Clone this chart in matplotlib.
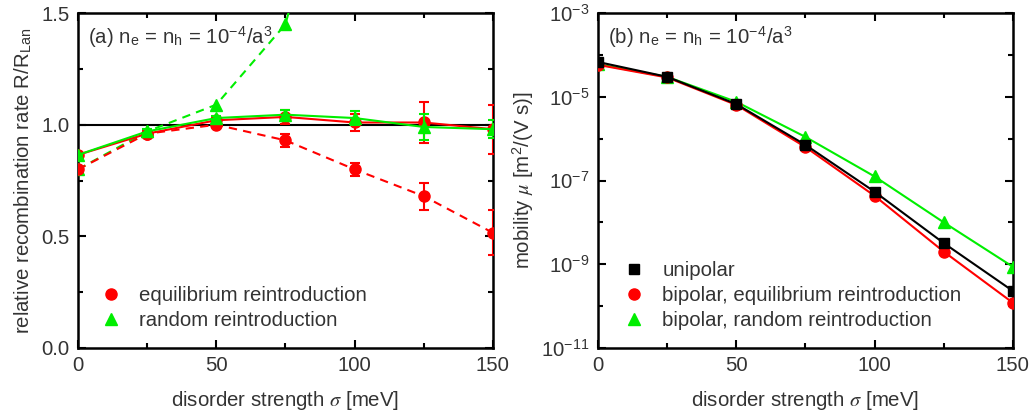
import math
import matplotlib
matplotlib.use("Agg")
import matplotlib.pyplot as plt
from matplotlib.lines import Line2D
from matplotlib.ticker import MultipleLocator, FixedLocator, NullFormatter, FuncFormatter, FormatStrFormatter

plt.rcParams['font.family'] = ['Liberation Sans', 'DejaVu Sans']
plt.rcParams['mathtext.fontset'] = 'stix'
plt.rcParams['text.color'] = '#333333'
plt.rcParams['axes.labelcolor'] = '#333333'
plt.rcParams['xtick.color'] = 'black'
plt.rcParams['ytick.color'] = 'black'
plt.rcParams['xtick.labelcolor'] = '#333333'
plt.rcParams['ytick.labelcolor'] = '#333333'

sigma = [0, 25, 50, 75, 100, 125, 150]

# panel (a): relative recombination rate
eq_solid = [0.865, 0.96, 1.02, 1.035, 1.01, 1.01, 0.98]
eq_solid_err = [0.0, 0.01, 0.01, 0.03, 0.04, 0.09, 0.11]
rnd_solid = [0.865, 0.97, 1.03, 1.045, 1.03, 0.99, 0.98]
rnd_solid_err = [0.0, 0.01, 0.01, 0.02, 0.03, 0.06, 0.04]
eq_dash = [0.80, 0.96, 1.00, 0.93, 0.80, 0.68, 0.516]
eq_dash_err = [0.0, 0.01, 0.01, 0.03, 0.03, 0.06, 0.10]
rnd_dash = [0.80, 0.97, 1.09, 1.45, 2.6]
sigma_rnd_dash = [0, 25, 50, 75, 100]

# panel (b): mobility
mu_uni = [6.8e-5, 3.0e-5, 6.7e-6, 7.1e-7, 5.4e-8, 3.2e-9, 2.3e-10]
mu_eq = [5.8e-5, 2.9e-5, 6.4e-6, 6.3e-7, 4.3e-8, 2.0e-9, 1.2e-10]
mu_rnd = [6.0e-5, 3.0e-5, 7.6e-6, 1.1e-6, 1.25e-7, 1.0e-8, 8.7e-10]

RED = '#ff0000'
GREEN = '#00ee00'
FS = 14.7

fig = plt.figure(figsize=(10.32, 4.16), dpi=100)
ax1 = fig.add_axes([0.0756, 0.1635, 0.402, 0.805])
ax2 = fig.add_axes([0.5795, 0.1635, 0.402, 0.805])

# ---- panel (a)
ax1.axhline(1.0, color='black', lw=1.5, zorder=1)
ax1.errorbar(sigma, eq_dash, yerr=eq_dash_err, color=RED, ls='--', dashes=(4, 3), lw=1.5,
             marker='o', ms=8, capsize=3.5, capthick=1.5, elinewidth=1.5, zorder=3)
ax1.plot(sigma_rnd_dash, rnd_dash, color=GREEN, ls='--', dashes=(4, 3), lw=1.5,
         marker='^', ms=9, zorder=3)
ax1.errorbar(sigma, eq_solid, yerr=eq_solid_err, color=RED, ls='-', lw=1.5,
             marker='o', ms=8, capsize=3.5, capthick=1.5, elinewidth=1.5, zorder=4)
ax1.errorbar(sigma, rnd_solid, yerr=rnd_solid_err, color=GREEN, ls='-', lw=1.5,
             marker='^', ms=9, capsize=3.5, capthick=1.5, elinewidth=1.5, zorder=5)
ax1.set_xlim(0, 150)
ax1.set_ylim(0, 1.5)
ax1.xaxis.set_major_locator(MultipleLocator(50))
ax1.xaxis.set_minor_locator(MultipleLocator(25))
ax1.yaxis.set_major_locator(MultipleLocator(0.5))
ax1.yaxis.set_minor_locator(MultipleLocator(0.25))
ax1.yaxis.set_major_formatter(FormatStrFormatter('%.1f'))
ax1.set_xlabel(r'disorder strength $\sigma$ [meV]', fontsize=FS, labelpad=10)
ax1.set_ylabel(r'relative recombination rate R/R$_\mathregular{Lan}$', fontsize=FS, labelpad=5)
ax1.text(0.025, 0.965, r'(a) n$_\mathregular{e}$ = n$_\mathregular{h}$ = 10$^\mathregular{-4}$/a$^\mathregular{3}$',
         transform=ax1.transAxes, fontsize=FS, va='top', ha='left')
h1 = [Line2D([], [], color=RED, marker='o', ls='none', ms=8),
      Line2D([], [], color=GREEN, marker='^', ls='none', ms=9)]
ax1.legend(h1, ['equilibrium reintroduction', 'random reintroduction'], loc='lower left',
           bbox_to_anchor=(0.035, 0.028), frameon=False, fontsize=FS, handlelength=1.0,
           handletextpad=0.9, labelspacing=0.3, borderaxespad=0)

# ---- panel (b)
ax2.plot(sigma, mu_rnd, color=GREEN, lw=1.5, marker='^', ms=9, zorder=3)
ax2.plot(sigma, mu_eq, color=RED, lw=1.5, marker='o', ms=8, zorder=4)
ax2.plot(sigma, mu_uni, color='black', lw=1.5, marker='s', ms=7, zorder=5)
ax2.set_yscale('log')
ax2.set_xlim(0, 150)
ax2.set_ylim(1e-11, 1e-3)
ax2.xaxis.set_major_locator(MultipleLocator(50))
ax2.xaxis.set_minor_locator(MultipleLocator(25))
ax2.yaxis.set_major_locator(FixedLocator([1e-11, 1e-9, 1e-7, 1e-5, 1e-3]))
ax2.yaxis.set_minor_locator(FixedLocator([1e-10, 1e-8, 1e-6, 1e-4]))
ax2.yaxis.set_minor_formatter(NullFormatter())
ax2.yaxis.set_major_formatter(FuncFormatter(
    lambda v, p: r'10$^\mathregular{%d}$' % round(math.log10(v))))
ax2.set_xlabel(r'disorder strength $\sigma$ [meV]', fontsize=FS, labelpad=10)
ax2.set_ylabel(r'mobility $\mu$ [m$^\mathregular{2}$/(V s)]', fontsize=FS, labelpad=4)
ax2.text(0.025, 0.965, r'(b) n$_\mathregular{e}$ = n$_\mathregular{h}$ = 10$^\mathregular{-4}$/a$^\mathregular{3}$',
         transform=ax2.transAxes, fontsize=FS, va='top', ha='left')
h2 = [Line2D([], [], color='black', marker='s', ls='none', ms=7),
      Line2D([], [], color=RED, marker='o', ls='none', ms=8),
      Line2D([], [], color=GREEN, marker='^', ls='none', ms=9)]
ax2.legend(h2, ['unipolar', 'bipolar, equilibrium reintroduction', 'bipolar, random reintroduction'],
           loc='lower left', bbox_to_anchor=(0.042, 0.028), frameon=False, fontsize=FS,
           handlelength=1.0, handletextpad=0.9, labelspacing=0.3, borderaxespad=0)

for ax in (ax1, ax2):
    for s in ax.spines.values():
        s.set_linewidth(1.8)
    ax.tick_params(which='both', direction='in', top=True, right=True, width=1.5, labelsize=FS)
    ax.tick_params(which='major', length=6, pad=6)
    ax.tick_params(which='minor', length=3.5)

fig.savefig('out.png', dpi=100)
